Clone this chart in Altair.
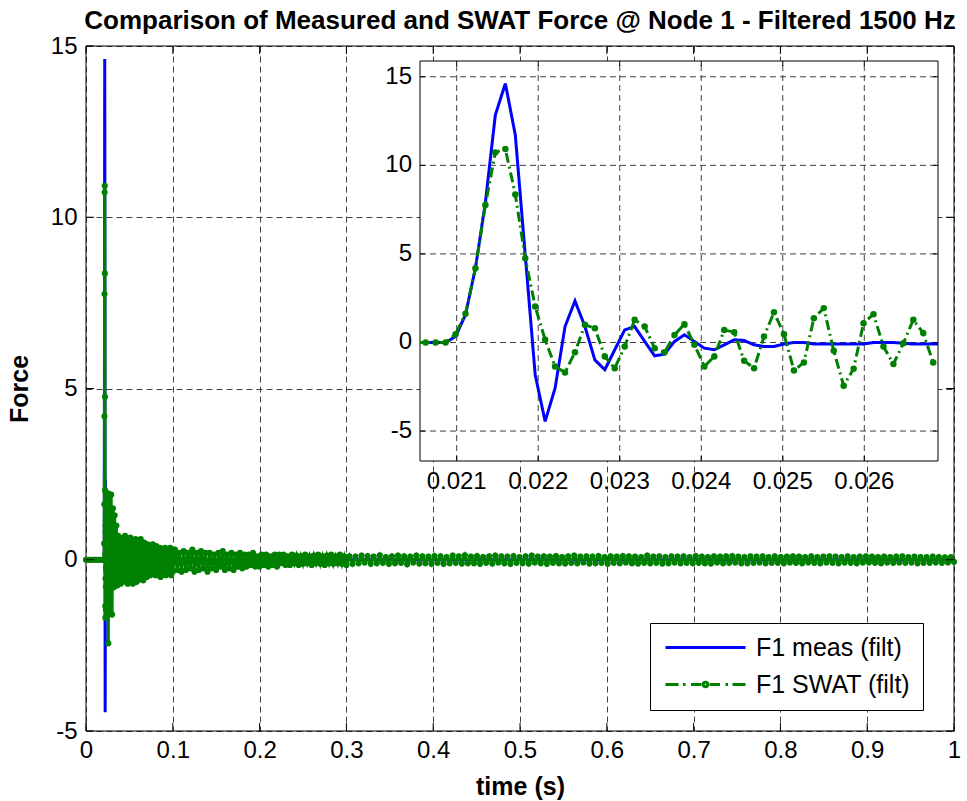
import altair as alt
import pandas as pd

# ---------------- data ----------------
SERIES = ["F1 meas (filt)", "F1 SWAT (filt)"]
COLORS = ["#0000ff", "#008000"]

# before the impact (both signals flat at zero)
pre_t = [0.000, 0.002, 0.004, 0.006, 0.008, 0.010, 0.012, 0.014, 0.016, 0.018, 0.020]
pre_meas = [0.0, 0.0, 0.0, 0.0, 0.0, 0.0, 0.0, 0.0, 0.0, 0.0, 0.0]
pre_swat = [0.0, 0.0, 0.0, 0.0, 0.0, 0.0, 0.0, 0.0, 0.0, 0.0, 0.0]

# impact window (the samples visible in the inset)
win_t = [0.020620, 0.020742, 0.020864, 0.020986, 0.021108, 0.021230, 0.021352, 0.021474,
         0.021597, 0.021719, 0.021841, 0.021963, 0.022085, 0.022207, 0.022329, 0.022451,
         0.022573, 0.022695, 0.022817, 0.022939, 0.023061, 0.023183, 0.023306, 0.023428,
         0.023550, 0.023672, 0.023794, 0.023916, 0.024038, 0.024160, 0.024282, 0.024404,
         0.024526, 0.024648, 0.024770, 0.024892, 0.025015, 0.025137, 0.025259, 0.025381,
         0.025503, 0.025625, 0.025747, 0.025869, 0.025991, 0.026113, 0.026235, 0.026357,
         0.026479, 0.026601, 0.026723, 0.026845]
win_meas = [0.0, 0.0, 0.0, 0.34, 1.56, 4.2, 7.9, 12.84, 14.62, 11.71,
            4.94, -1.82, -4.45, -2.58, 0.9, 2.35, 0.9, -0.98, -1.54, -0.41,
            0.71, 0.9, 0.06, -0.75, -0.66, 0.06, 0.43, 0.06, -0.32, -0.41,
            -0.13, 0.15, 0.11, -0.13, -0.23, -0.23, -0.09, 0.0, 0.0, -0.09,
            -0.09, -0.09, -0.09, -0.09, -0.09, 0.0, 0.0, 0.0, -0.04, -0.09,
            -0.09, -0.09]
win_swat = [0.0, 0.0, 0.0, 0.47, 1.62, 4.19, 7.76, 10.73, 10.92, 8.36,
            4.76, 2.03, 0.15, -1.35, -1.69, -0.55, 1.0, 0.81, -0.79, -1.45,
            -0.23, 1.28, 0.9, -0.32, -0.55, 0.43, 1.03, -0.13, -1.35, -0.79,
            0.71, 0.58, -1.03, -1.45, 0.34, 1.71, 0.47, -1.58, -1.13, 1.37,
            1.94, -0.47, -2.44, -1.48, 1.09, 1.6, -0.23, -1.22, -0.04, 1.28,
            0.53, -1.13]
# line ends at the inset frame
edge_t = [0.02055, 0.026904]
edge_meas = [0.0, -0.09]
edge_swat = [0.0]

# SWAT ringing after the window (main plot, decaying band)
tailA_start, tailA_step = 0.027, 0.001
tailA = [1.2, -1.5, 1.9, -1.6, 1.5, -0.8, 1.3, -0.7, 1.0, -0.75,
         0.7, -0.6, 0.65, -0.7, 0.55, -0.65, 0.6, -0.5, 0.7, -0.6,
         0.5, -0.7, 0.6, -0.55, 0.65, -0.6, 0.5, -0.7, 0.55, -0.5,
         0.6, -0.65, 0.45, -0.6, 0.55, -0.5, 0.6, -0.55, 0.45, -0.6,
         0.5, -0.45, 0.4, -0.5, 0.45, -0.4, 0.35, -0.45, 0.4, -0.35,
         0.45, -0.4, 0.3, -0.45, 0.4, -0.35, 0.3, -0.45, 0.35, -0.5,
         0.25, -0.4, 0.3, -0.35, 0.35, -0.45, 0.25, -0.4, 0.3, -0.3,
         0.35, -0.45, 0.3, -0.35]
tailB_start, tailB_step = 0.1025, 0.0025
tailB = [0.3, -0.3, 0.2, -0.35, 0.25, -0.3, 0.2, -0.25, 0.3, -0.35,
         0.2, -0.3, 0.25, -0.25, 0.2, -0.35, 0.2, -0.25, 0.15, -0.3,
         0.2, -0.2, 0.25, -0.3, 0.15, -0.25, 0.2, -0.3, 0.15, -0.2,
         0.2, -0.25, 0.15, -0.2, 0.15, -0.15, 0.2, -0.2, 0.1, -0.2,
         0.15, -0.15, 0.15, -0.2, 0.1, -0.15, 0.15, -0.2, 0.15, -0.1,
         0.15, -0.15, 0.1, -0.15, 0.15, -0.1, 0.12, -0.15, 0.1, -0.12,
         0.15, -0.1, 0.1, -0.15, 0.12, -0.1, 0.15, -0.12, 0.1, -0.15,
         0.12, -0.1, 0.15, -0.12, 0.1, -0.1, 0.15, -0.12, 0.1, -0.15]
tailC_start, tailC_step = 0.3035, 0.0035
tailC = [0.1, -0.12, 0.09, -0.1, 0.12, -0.08, 0.11, -0.12, 0.09, -0.1,
         0.13, -0.09, 0.08, -0.12, 0.1, -0.1, 0.12, -0.09, 0.1, -0.13,
         0.09, -0.08, 0.12, -0.11, 0.1, -0.1, 0.09, -0.12, 0.11, -0.09,
         0.1, -0.12, 0.08, -0.1, 0.12, -0.09, 0.1, -0.11, 0.13, -0.1,
         0.09, -0.1, 0.11, -0.12, 0.08, -0.09, 0.1, -0.11, 0.12, -0.08,
         0.1, -0.1, 0.09, -0.12, 0.11, -0.09, 0.08, -0.1, 0.1, -0.11,
         0.12, -0.08, 0.09, -0.1, 0.1, -0.12, 0.09, -0.09, 0.11, -0.1,
         0.08, -0.11, 0.1, -0.09, 0.12, -0.1, 0.09, -0.08, 0.1, -0.11,
         0.09, -0.1, 0.11, -0.09, 0.08, -0.12, 0.1, -0.09, 0.09, -0.1,
         0.11, -0.08, 0.1, -0.1, 0.09, -0.11, 0.08, -0.09, 0.12, -0.1,
         0.09, -0.09, 0.1, -0.11, 0.08, -0.1, 0.1, -0.08, 0.09, -0.1,
         0.1, -0.09, 0.08, -0.1, 0.11, -0.09, 0.09, -0.1, 0.08, -0.11,
         0.1, -0.08, 0.09, -0.1, 0.1, -0.09, 0.11, -0.08, 0.09, -0.1,
         0.08, -0.1, 0.1, -0.09, 0.09, -0.08, 0.1, -0.1, 0.08, -0.09,
         0.1, -0.09, 0.08, -0.1, 0.09, -0.08, 0.1, -0.09, 0.09, -0.1,
         0.08, -0.08, 0.1, -0.09, 0.08, -0.1, 0.09, -0.08, 0.1, -0.09,
         0.09, -0.1, 0.08, -0.08, 0.1, -0.09, 0.08, -0.1, 0.09, -0.08,
         0.1, -0.08, 0.09, -0.09, 0.08, -0.1, 0.09, -0.08, 0.08, -0.09,
         0.09, -0.08, 0.1, -0.09, 0.08, -0.08, 0.09, -0.1, 0.08, -0.09,
         0.08, -0.09, 0.09, -0.08, 0.08, -0.09, 0.07, -0.08, 0.08, -0.06]
# measured force after the window (flat)
tail_meas_t = [0.027, 0.03, 0.04, 0.06, 0.1, 0.2, 0.4, 0.6, 0.8, 1.0]
tail_meas = [-0.05, 0.03, -0.02, 0.02, -0.01, 0.0, 0.0, 0.0, 0.0, 0.0]

# axes
x_ticks = [0, 0.1, 0.2, 0.3, 0.4, 0.5, 0.6, 0.7, 0.8, 0.9, 1]
y_ticks = [-5, 0, 5, 10, 15]
in_x_ticks = [0.021, 0.022, 0.023, 0.024, 0.025, 0.026]
in_x_labels = ["0.021", "0.022", "0.023", "0.024", "0.025", "0.026"]
in_y_ticks = [-5, 0, 5, 10, 15]
in_y_labels = ["-5", "0", "5", "10", "15"]

TITLE = "Comparison of Measured and SWAT Force @ Node 1 - Filtered 1500 Hz"

# ---------------- layout / styles ----------------
W, H = 868, 685
X_DOM, Y_DOM = [0, 1], [-5, 15]
IN_X_DOM, IN_Y_DOM = [0.02055, 0.026904], [-6.69, 15.89]
IN_X_RANGE, IN_Y_RANGE = [334, 852], [415, 15]
FONT = "Liberation Sans"
GRID = "#404040"
TICK_FS = 24


def seg(start, step, vals):
    return [round(start + i * step, 6) for i in range(len(vals))]


tail_t = seg(tailA_start, tailA_step, tailA) + seg(tailB_start, tailB_step, tailB) + seg(tailC_start, tailC_step, tailC)
tail_swat = tailA + tailB + tailC

main_meas = pd.DataFrame({"t": pre_t + win_t + tail_meas_t, "F": pre_meas + win_meas + tail_meas})
main_swat = pd.DataFrame({"t": pre_t + win_t + tail_t, "F": pre_swat + win_swat + tail_swat})

in_meas = pd.DataFrame({"t": [edge_t[0]] + win_t + [edge_t[1]],
                        "F": [edge_meas[0]] + win_meas + [edge_meas[1]]})
in_swat_line = pd.DataFrame({"t": [edge_t[0]] + win_t, "F": edge_swat + win_swat})
in_swat_pts = pd.DataFrame({"t": win_t, "F": win_swat})

xs = alt.Scale(domain=X_DOM, nice=False, zero=False)
ys = alt.Scale(domain=Y_DOM, nice=False, zero=False)
xs_in = alt.Scale(domain=IN_X_DOM, range=IN_X_RANGE, nice=False, zero=False)
ys_in = alt.Scale(domain=IN_Y_DOM, range=IN_Y_RANGE, nice=False, zero=False)

ax_x = alt.Axis(values=x_ticks, labelExpr="'' + datum.value", grid=True, gridDash=[6, 4],
                gridColor=GRID, gridWidth=1, gridOpacity=1, ticks=False, domain=False,
                labelFont=FONT, labelFontSize=TICK_FS, labelColor="black", labelPadding=7,
                labelFlush=False, labelOverlap=False,
                title="time (s)", titleFont=FONT, titleFontSize=25, titleFontWeight="bold",
                titleColor="black", titleY=55, titleBaseline="middle")
ax_y = alt.Axis(values=y_ticks, labelExpr="'' + datum.value", grid=True, gridDash=[6, 4],
                gridColor=GRID, gridWidth=1, gridOpacity=1, ticks=False, domain=False,
                labelFont=FONT, labelFontSize=TICK_FS, labelColor="black", labelPadding=9,
                labelFlush=False, labelOverlap=False,
                title="Force", titleFont=FONT, titleFontSize=25, titleFontWeight="bold",
                titleColor="black", titleX=-67, titleY=H / 2, titleBaseline="middle",
                titleAlign="center")

X = lambda f="t": alt.X(f"{f}:Q", scale=xs, axis=ax_x)
Y = lambda f="F": alt.Y(f"{f}:Q", scale=ys, axis=ax_y)

# main ticks (inward, on all four sides)
tk = 8
tx, ty = tk * (X_DOM[1] - X_DOM[0]) / W, tk * (Y_DOM[1] - Y_DOM[0]) / H
rows = []
for v in x_ticks:
    rows.append(dict(x=v, x2=v, y=Y_DOM[0], y2=Y_DOM[0] + ty))
    rows.append(dict(x=v, x2=v, y=Y_DOM[1], y2=Y_DOM[1] - ty))
for v in y_ticks:
    rows.append(dict(x=X_DOM[0], x2=X_DOM[0] + tx, y=v, y2=v))
    rows.append(dict(x=X_DOM[1], x2=X_DOM[1] - tx, y=v, y2=v))
main_ticks = pd.DataFrame(rows)
frame_main = pd.DataFrame([dict(x=X_DOM[0], x2=X_DOM[1], y=Y_DOM[0], y2=Y_DOM[1])])

frame_l = alt.Chart(frame_main).mark_rect(fill="transparent", stroke="black", strokeWidth=1).encode(
    x=X("x"), x2="x2:Q", y=Y("y"), y2="y2:Q")
ticks_l = alt.Chart(main_ticks).mark_rule(color="black", strokeWidth=1).encode(
    x=X("x"), x2="x2:Q", y=Y("y"), y2="y2:Q")
meas_l = alt.Chart(main_meas).mark_line(color=COLORS[0], strokeWidth=3).encode(x=X(), y=Y(), order="t:Q")
swat_l = alt.Chart(main_swat).mark_line(color=COLORS[1], strokeWidth=3).encode(x=X(), y=Y(), order="t:Q")
swat_p = alt.Chart(main_swat).mark_circle(color=COLORS[1], size=38, opacity=1).encode(x=X(), y=Y())

# legend (drawn from the scale domain only)
PATH_MEAS = "M-4,0L4,0"
PATH_SWAT = ("M-4,0L-2.7,0M-2.25,0L-2.0,0M-1.45,0L-0.4,0"
             "M-0.22,0A0.22,0.22,0,1,0,0.22,0A0.22,0.22,0,1,0,-0.22,0"
             "M-0.08,0A0.08,0.08,0,1,0,0.08,0A0.08,0.08,0,1,0,-0.08,0"
             "M0.4,0L1.45,0M2.0,0L2.25,0M2.7,0L4,0")
leg = alt.Legend(title=None, orient="none", legendX=564, legendY=577, fillColor="white",
                 strokeColor="black", padding=12, labelFont=FONT, labelFontSize=25,
                 labelColor="black", symbolSize=400, symbolStrokeWidth=3, symbolOffset=31,
                 labelOffset=38, rowPadding=11, symbolOpacity=1)
legend_l = alt.Chart(pd.DataFrame({"series": SERIES})).mark_point(
    filled=False, size=400, strokeWidth=3, opacity=1).encode(
    color=alt.Color("series:N", scale=alt.Scale(domain=SERIES, range=COLORS), legend=leg),
    shape=alt.Shape("series:N", scale=alt.Scale(domain=SERIES, range=[PATH_MEAS, PATH_SWAT]), legend=leg),
).transform_filter("false")

main = alt.layer(frame_l, meas_l, swat_l, swat_p, ticks_l, legend_l)

# ---------------- inset ----------------
XI = lambda f="t": alt.X(f"{f}:Q", scale=xs_in, axis=None)
YI = lambda f="F": alt.Y(f"{f}:Q", scale=ys_in, axis=None)

in_frame = pd.DataFrame([dict(x=IN_X_DOM[0], x2=IN_X_DOM[1], y=IN_Y_DOM[0], y2=IN_Y_DOM[1])])
grow = []
for v in in_x_ticks:
    grow.append(dict(x=v, x2=v, y=IN_Y_DOM[0], y2=IN_Y_DOM[1]))
for v in in_y_ticks:
    grow.append(dict(x=IN_X_DOM[0], x2=IN_X_DOM[1], y=v, y2=v))
in_grid = pd.DataFrame(grow)
tki = 5
txi = tki * (IN_X_DOM[1] - IN_X_DOM[0]) / (IN_X_RANGE[1] - IN_X_RANGE[0])
tyi = tki * (IN_Y_DOM[1] - IN_Y_DOM[0]) / (IN_Y_RANGE[0] - IN_Y_RANGE[1])
trow = []
for v in in_x_ticks:
    trow.append(dict(x=v, x2=v, y=IN_Y_DOM[0], y2=IN_Y_DOM[0] + tyi))
    trow.append(dict(x=v, x2=v, y=IN_Y_DOM[1], y2=IN_Y_DOM[1] - tyi))
for v in in_y_ticks:
    trow.append(dict(x=IN_X_DOM[0], x2=IN_X_DOM[0] + txi, y=v, y2=v))
    trow.append(dict(x=IN_X_DOM[1], x2=IN_X_DOM[1] - txi, y=v, y2=v))
in_ticks = pd.DataFrame(trow)
in_xlab = pd.DataFrame({"x": in_x_ticks, "y": [IN_Y_DOM[0]] * len(in_x_ticks), "lab": in_x_labels})
in_ylab = pd.DataFrame({"x": [IN_X_DOM[0]] * len(in_y_ticks), "y": in_y_ticks, "lab": in_y_labels})

i_frame = alt.Chart(in_frame).mark_rect(fill="white", stroke="black", strokeWidth=1).encode(
    x=XI("x"), x2="x2:Q", y=YI("y"), y2="y2:Q")
i_grid = alt.Chart(in_grid).mark_rule(color=GRID, strokeWidth=1, strokeDash=[6, 4]).encode(
    x=XI("x"), x2="x2:Q", y=YI("y"), y2="y2:Q")
i_ticks = alt.Chart(in_ticks).mark_rule(color="black", strokeWidth=1).encode(
    x=XI("x"), x2="x2:Q", y=YI("y"), y2="y2:Q")
i_xlab = alt.Chart(in_xlab).mark_text(font=FONT, fontSize=TICK_FS, color="black", baseline="middle", dy=21).encode(
    x=XI("x"), y=YI("y"), text="lab:N")
i_ylab = alt.Chart(in_ylab).mark_text(font=FONT, fontSize=TICK_FS, color="black", baseline="middle",
                                      align="right", dx=-8).encode(x=XI("x"), y=YI("y"), text="lab:N")
i_meas = alt.Chart(in_meas).mark_line(color=COLORS[0], strokeWidth=3).encode(x=XI(), y=YI(), order="t:Q")
i_swat = alt.Chart(in_swat_line).mark_line(color=COLORS[1], strokeWidth=3, strokeDash=[10, 4, 2, 4]).encode(
    x=XI(), y=YI(), order="t:Q")
i_pts = alt.Chart(in_swat_pts).mark_circle(color=COLORS[1], size=42, opacity=1).encode(x=XI(), y=YI())

inset = alt.layer(i_frame, i_grid, i_ticks, i_xlab, i_ylab, i_meas, i_swat, i_pts)

chart = alt.layer(main, inset).resolve_scale(x="independent", y="independent").properties(
    width=W, height=H,
    autosize=alt.AutoSizeParams(type="none"),
    padding={"left": 86, "top": 46, "right": 13, "bottom": 70},
    title=alt.TitleParams(text=TITLE, font=FONT, fontSize=26, fontWeight="bold", color="black",
                          anchor="middle", offset=0),
    background="white",
).configure_view(stroke=None)

chart.save("out.html", embed_options={"renderer": "svg", "actions": False})
